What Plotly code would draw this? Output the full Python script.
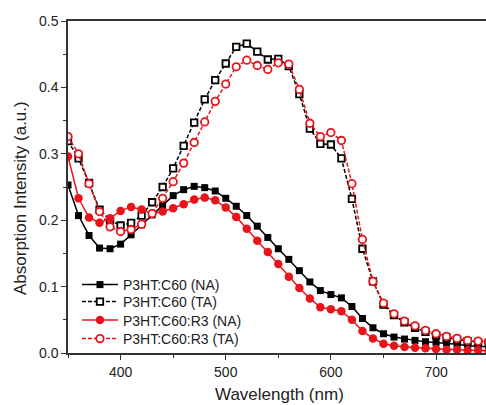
import plotly.graph_objects as go

wavelength = list(range(350, 760, 10))

na_c60 = [0.253, 0.207, 0.177, 0.158, 0.157, 0.164, 0.178, 0.193, 0.208, 0.222,
          0.237, 0.246, 0.251, 0.249, 0.244, 0.233, 0.221, 0.207, 0.191, 0.174,
          0.157, 0.141, 0.124, 0.107, 0.094, 0.088, 0.083, 0.070, 0.052, 0.038,
          0.029, 0.024, 0.021, 0.019, 0.017, 0.016, 0.015, 0.013, 0.011, 0.010, 0.009]

ta_c60 = [0.319, 0.293, 0.256, 0.216, 0.200, 0.192, 0.196, 0.207, 0.227, 0.250,
          0.278, 0.312, 0.347, 0.382, 0.411, 0.436, 0.461, 0.466, 0.454, 0.442,
          0.443, 0.432, 0.390, 0.338, 0.315, 0.314, 0.293, 0.232, 0.157, 0.108,
          0.073, 0.057, 0.046, 0.038, 0.032, 0.027, 0.023, 0.020, 0.018, 0.016, 0.015]

na_r3 = [0.296, 0.233, 0.204, 0.196, 0.203, 0.214, 0.220, 0.216, 0.210, 0.213,
         0.218, 0.224, 0.231, 0.234, 0.230, 0.219, 0.205, 0.187, 0.169, 0.152,
         0.134, 0.115, 0.098, 0.082, 0.069, 0.066, 0.063, 0.050, 0.033, 0.022,
         0.014, 0.011, 0.009, 0.008, 0.007, 0.006, 0.005, 0.005, 0.004, 0.004, 0.003]

ta_r3 = [0.326, 0.300, 0.255, 0.213, 0.190, 0.183, 0.186, 0.194, 0.210, 0.233,
         0.258, 0.286, 0.317, 0.348, 0.379, 0.405, 0.431, 0.441, 0.433, 0.427,
         0.437, 0.435, 0.397, 0.346, 0.326, 0.332, 0.320, 0.255, 0.171, 0.108,
         0.075, 0.059, 0.048, 0.041, 0.034, 0.029, 0.025, 0.022, 0.019, 0.018, 0.017]

names = ["P3HT:C60 (NA)", "P3HT:C60 (TA)", "P3HT:C60:R3 (NA)", "P3HT:C60:R3 (TA)"]

BLACK = "#000000"
RED = "#e8141c"
FONT = "Liberation Sans, Arial, sans-serif"

fig = go.Figure()
fig.add_trace(go.Scatter(
    x=wavelength, y=na_c60, name=names[0], mode="lines+markers", legend="legend",
    line=dict(color=BLACK, width=1.5),
    marker=dict(symbol="square", size=7, color=BLACK, line=dict(width=0))))
fig.add_trace(go.Scatter(
    x=wavelength, y=ta_c60, name=names[1], mode="lines+markers", legend="legend2",
    line=dict(color=BLACK, width=1.5, dash="4px,2px"),
    marker=dict(symbol="square", size=6.5, color="white", line=dict(color=BLACK, width=1.8))))
fig.add_trace(go.Scatter(
    x=wavelength, y=na_r3, name=names[2], mode="lines+markers", legend="legend3",
    line=dict(color=RED, width=1.5),
    marker=dict(symbol="circle", size=8.5, color=RED, line=dict(width=0))))
fig.add_trace(go.Scatter(
    x=wavelength, y=ta_r3, name=names[3], mode="lines+markers", legend="legend4",
    line=dict(color=RED, width=1.5, dash="4px,2px"),
    marker=dict(symbol="circle", size=7.5, color="white", line=dict(color=RED, width=1.8))))

# legend entry anchor positions (pixels from top) in the 486x405 page
entry_y = [285.0, 302.0, 320.5, 339.0]


def legend_box(py):
    return dict(x=(115 - 68) / 418 - 0.091, y=(353 - py) / 332, xanchor="left", yanchor="middle",
                bgcolor="rgba(0,0,0,0)", font=dict(size=14, color="#222222"),
                itemwidth=36)


fig.update_layout(
    width=486, height=405,
    margin=dict(l=68, r=0, t=21, b=52),
    paper_bgcolor="white", plot_bgcolor="white",
    font=dict(family=FONT, size=14, color="#222222"),
    showlegend=True,
    legend=legend_box(entry_y[0]),
    legend2=legend_box(entry_y[1]),
    legend3=legend_box(entry_y[2]),
    legend4=legend_box(entry_y[3]),
    xaxis=dict(range=[350, 747.5], showgrid=False, zeroline=False,
               showline=True, linecolor="#333333", linewidth=1.5, mirror=True,
               ticks="outside", ticklen=5, tickwidth=1.2, tickcolor="#333333",
               tickvals=[400, 500, 600, 700],
               minor=dict(tickvals=[350, 450, 550, 650, 750], ticks="outside",
                          ticklen=3, tickwidth=1.2, tickcolor="#333333"),
               tickfont=dict(size=14, color="#222222")),
    yaxis=dict(range=[0, 0.5], showgrid=False, zeroline=False,
               showline=True, linecolor="#333333", linewidth=1.5,
               ticks="outside", ticklen=5, tickwidth=1.2, tickcolor="#333333",
               tickvals=[0, 0.1, 0.2, 0.3, 0.4, 0.5], tickformat=".1f",
               minor=dict(tickvals=[0.05, 0.15, 0.25, 0.35, 0.45], ticks="outside",
                          ticklen=3, tickwidth=1.2, tickcolor="#333333"),
               tickfont=dict(size=14, color="#222222")),
    annotations=[
        dict(text="Wavelength (nm)", xref="paper", yref="paper",
             x=(279 - 68) / 418, y=-(394 - 353) / 332, xanchor="center", yanchor="middle",
             showarrow=False, font=dict(size=17, color="#222222")),
        dict(text="Absorption Intensity (a.u.)", xref="paper", yref="paper",
             x=-(68 - 20) / 418, y=(353 - 198) / 332, xanchor="center", yanchor="middle",
             textangle=-90, showarrow=False, font=dict(size=17, color="#222222")),
    ],
)

fig.write_html("out.html", config={"displayModeBar": False},
               post_script="document.body.style.margin='0px';")
